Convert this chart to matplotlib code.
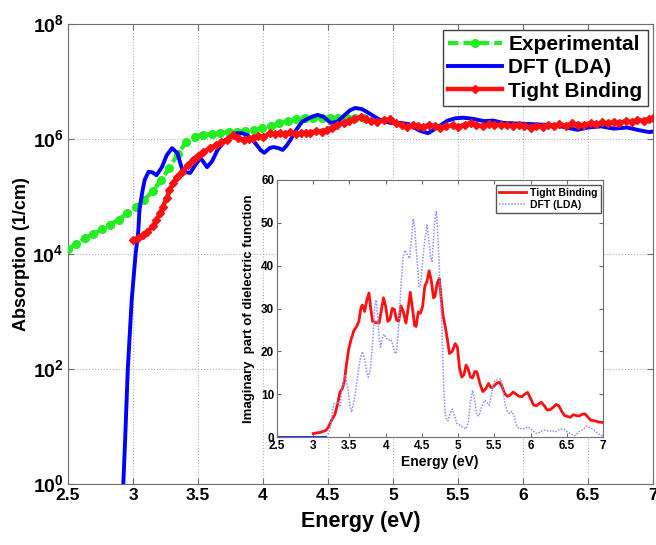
import numpy as np
import matplotlib
matplotlib.use("Agg")
import matplotlib.pyplot as plt

plt.rcParams['font.family'] = ['Liberation Sans', 'DejaVu Sans']
plt.rcParams['font.weight'] = 'bold'
plt.rcParams['mathtext.fontset'] = 'custom'
plt.rcParams['mathtext.rm'] = 'Liberation Sans:bold'
plt.rcParams['mathtext.bf'] = 'Liberation Sans:bold'

# ---- absorption spectra (energy in eV, log10 of absorption in 1/cm) ----
exp_e = [2.50, 2.565, 2.63, 2.695, 2.76, 2.825, 2.89, 2.955, 3.02, 3.085,
         3.15, 3.215, 3.28, 3.345, 3.41, 3.475, 3.54, 3.605, 3.67, 3.735,
         3.80, 3.865, 3.93, 3.995, 4.06, 4.125, 4.19, 4.255, 4.32, 4.385,
         4.45, 4.515, 4.58, 4.645, 4.71, 4.775]
exp_log = [4.08, 4.18, 4.27, 4.35, 4.43, 4.51, 4.60, 4.71, 4.81, 4.94,
           5.09, 5.28, 5.50, 5.74, 5.95, 6.04, 6.07, 6.09, 6.11, 6.12,
           6.13, 6.14, 6.15, 6.19, 6.23, 6.27, 6.31, 6.34, 6.36, 6.37,
           6.37, 6.37, 6.37, 6.37, 6.37, 6.37]

dft_e = [2.92, 2.94, 2.96, 2.99, 3.02, 3.04, 3.05, 3.07, 3.09, 3.12,
         3.15, 3.18, 3.22, 3.26, 3.30, 3.34, 3.38, 3.41, 3.44, 3.48,
         3.52, 3.57, 3.61, 3.65, 3.71, 3.76, 3.80, 3.84, 3.88, 3.94, 3.98,
         4.01, 4.05, 4.08, 4.12, 4.15, 4.18, 4.21, 4.25, 4.30, 4.36, 4.42,
         4.47, 4.52, 4.57, 4.62, 4.67, 4.71, 4.76, 4.80, 4.85, 4.90, 4.98,
         5.05, 5.12, 5.20, 5.27, 5.34, 5.42, 5.48, 5.54, 5.62, 5.70,
         5.77, 5.85, 5.95, 6.05, 6.15, 6.25, 6.33, 6.42, 6.50, 6.60,
         6.70, 6.80, 6.90, 6.97, 7.00]
dft_log = [-0.3, 0.8, 2.0, 3.2, 4.0, 4.37, 4.77, 5.06, 5.29, 5.43,
           5.42, 5.37, 5.50, 5.72, 5.84, 5.76, 5.46, 5.42, 5.41, 5.55,
           5.67, 5.51, 5.62, 5.81, 5.98, 6.06, 6.10, 6.10, 6.07, 5.93, 5.81,
           5.76, 5.84, 5.86, 5.84, 5.81, 5.88, 5.98, 6.14, 6.30, 6.37, 6.42,
           6.38, 6.28, 6.30, 6.40, 6.50, 6.54, 6.52, 6.47, 6.40, 6.33, 6.28,
           6.28, 6.26, 6.15, 6.10, 6.20, 6.32, 6.36, 6.37, 6.35, 6.31,
           6.32, 6.28, 6.27, 6.26, 6.25, 6.24, 6.20, 6.16, 6.20, 6.22,
           6.18, 6.20, 6.15, 6.12, 6.13]

tb_e = [3.00, 3.04, 3.08, 3.11, 3.15, 3.18, 3.21, 3.23, 3.26, 3.28,
        3.31, 3.34, 3.38, 3.42, 3.46, 3.50, 3.54, 3.59, 3.64, 3.68,
        3.72, 3.77, 3.81, 3.85, 3.89, 3.92, 3.96, 4.00, 4.05, 4.09,
        4.13, 4.17, 4.21, 4.25, 4.29, 4.33, 4.36, 4.41, 4.45, 4.49,
        4.53, 4.57, 4.62, 4.66, 4.70, 4.75, 4.79, 4.83, 4.88, 4.93,
        4.98, 5.02, 5.07, 5.11, 5.15, 5.19, 5.23, 5.28, 5.32, 5.36,
        5.41, 5.46, 5.50, 5.55, 5.60, 5.64, 5.69, 5.74, 5.78, 5.83,
        5.88, 5.92, 5.97, 6.01, 6.06, 6.10, 6.15, 6.19, 6.24, 6.28,
        6.33, 6.38, 6.42, 6.47, 6.52, 6.56, 6.61, 6.65, 6.70, 6.74,
        6.79, 6.84, 6.88, 6.93, 6.97, 7.00]
tb_log = [4.24, 4.28, 4.33, 4.38, 4.48, 4.59, 4.72, 4.82, 4.98, 5.11,
          5.24, 5.34, 5.43, 5.54, 5.63, 5.71, 5.77, 5.84, 5.90, 5.94,
          5.98, 6.07, 6.02, 5.98, 6.00, 6.02, 6.05, 6.03, 6.10, 6.08,
          6.11, 6.09, 6.12, 6.08, 6.10, 6.11, 6.10, 6.14, 6.13, 6.16,
          6.20, 6.24, 6.28, 6.32, 6.35, 6.38, 6.34, 6.31, 6.30, 6.33,
          6.34, 6.27, 6.24, 6.21, 6.25, 6.22, 6.21, 6.25, 6.22, 6.19,
          6.22, 6.24, 6.21, 6.25, 6.28, 6.25, 6.22, 6.26, 6.24, 6.25,
          6.24, 6.22, 6.25, 6.23, 6.20, 6.23, 6.21, 6.24, 6.22, 6.26,
          6.23, 6.27, 6.25, 6.24, 6.28, 6.26, 6.29, 6.27, 6.30, 6.28,
          6.31, 6.30, 6.33, 6.32, 6.35, 6.37]

# ---- imaginary part of the dielectric function (inset) ----
eps_tb_e = [3.00, 3.10, 3.17, 3.21, 3.25, 3.30, 3.34, 3.37, 3.40, 3.43,
            3.46, 3.49, 3.52, 3.56, 3.60, 3.63, 3.66, 3.68, 3.71, 3.74,
            3.77, 3.79, 3.82, 3.86, 3.91, 3.94, 3.97, 4.00, 4.03, 4.06,
            4.09, 4.12, 4.15, 4.18, 4.21, 4.24, 4.28, 4.31, 4.34, 4.37,
            4.40, 4.42, 4.45, 4.48, 4.51, 4.54, 4.57, 4.60, 4.63, 4.66,
            4.68, 4.71, 4.74, 4.76, 4.79, 4.82, 4.85, 4.88, 4.92, 4.96,
            4.99, 5.02, 5.05, 5.08, 5.11, 5.14, 5.17, 5.20, 5.23, 5.26,
            5.30, 5.34, 5.38, 5.42, 5.45, 5.48, 5.52, 5.57, 5.60, 5.64,
            5.68, 5.72, 5.76, 5.80, 5.84, 5.88, 5.92, 5.96, 6.00, 6.04,
            6.08, 6.12, 6.15, 6.19, 6.23, 6.27, 6.31, 6.35, 6.39, 6.43,
            6.47, 6.51, 6.55, 6.59, 6.63, 6.67, 6.71, 6.75, 6.79, 6.83,
            6.88, 6.94, 7.00]
eps_tb = [0.8, 1.1, 1.5, 2.3, 3.8, 5.3, 8.0, 10.5, 11.2, 13.0,
          17.1, 20.5, 22.6, 24.8, 25.8, 27.0, 30.3, 30.8, 29.3, 32.0,
          33.6, 30.5, 27.0, 26.7, 26.6, 29.5, 32.5, 30.5, 27.0, 27.5,
          30.0, 29.8, 27.3, 27.0, 30.6, 29.5, 26.6, 30.0, 33.8, 30.0,
          26.0, 25.8, 29.2, 28.9, 30.5, 35.2, 36.3, 38.8, 36.5, 32.5,
          32.8, 35.8, 37.0, 33.5, 28.5, 26.0, 23.0, 19.5, 20.0, 21.8,
          21.0, 16.0, 14.0, 14.5, 16.8, 15.8, 14.0, 13.8, 15.3, 15.2,
          12.5, 10.6, 11.2, 12.5, 11.6, 11.6, 12.4, 12.8, 12.0, 10.2,
          9.5, 9.8, 10.5, 10.0, 9.5, 9.4, 10.0, 10.4, 9.0, 7.5,
          7.3, 7.8, 8.1, 7.3, 6.3, 6.4, 6.9, 7.6, 7.3, 6.0,
          5.0, 4.8, 4.6, 5.2, 5.0, 4.9, 5.3, 5.4, 4.7, 3.9,
          3.8, 3.5, 3.4]

eps_dft_e = [2.50, 2.80, 3.17, 3.21, 3.24, 3.27, 3.29, 3.32, 3.34, 3.37,
             3.40, 3.43, 3.45, 3.48, 3.51, 3.53, 3.56, 3.59, 3.62, 3.65,
             3.68, 3.71, 3.74, 3.76, 3.79, 3.82, 3.85, 3.87, 3.89, 3.91,
             3.93, 3.96, 3.98, 4.01, 4.04, 4.07, 4.10, 4.13, 4.15, 4.18,
             4.21, 4.24, 4.27, 4.30, 4.33, 4.36, 4.38, 4.40, 4.43, 4.46,
             4.48, 4.51, 4.54, 4.57, 4.59, 4.62, 4.64, 4.66, 4.68, 4.70,
             4.72, 4.75, 4.78, 4.80, 4.82, 4.84, 4.86, 4.89, 4.92, 4.95,
             4.98, 5.02, 5.07, 5.11, 5.14, 5.17, 5.20, 5.23, 5.26, 5.29,
             5.32, 5.36, 5.39, 5.43, 5.46, 5.50, 5.54, 5.59, 5.62, 5.65,
             5.68, 5.71, 5.74, 5.77, 5.80, 5.84, 5.88, 5.92, 5.96, 5.99,
             6.03, 6.07, 6.10, 6.14, 6.18, 6.22, 6.26, 6.30, 6.34, 6.38,
             6.42, 6.46, 6.50, 6.55, 6.60, 6.63, 6.66, 6.70, 6.74, 6.78,
             6.82, 6.86, 6.90, 6.95, 7.00]
eps_dft = [0.0, 0.0, 0.0, 0.8, 2.5, 6.5, 7.9, 7.8, 8.2, 7.0,
           11.5, 14.3, 14.2, 11.0, 7.0, 5.8, 8.0, 11.5, 15.0, 18.5,
           19.9, 18.0, 15.0, 14.0, 16.0, 22.0, 30.5, 32.0, 28.0, 23.0,
           21.0, 23.5, 24.0, 23.0, 22.6, 22.8, 21.5, 19.5, 19.8, 26.0,
           35.0, 42.0, 43.6, 42.5, 41.7, 47.0, 51.0, 49.0, 42.0, 35.0,
           35.5, 41.0, 46.0, 49.5, 47.0, 42.0, 41.0, 46.0, 51.0, 52.6,
           47.0, 36.0, 24.0, 12.0, 6.0, 4.0, 3.8, 5.5, 6.5, 5.0,
           3.2, 2.8, 2.2, 1.9, 3.5, 8.0, 10.9, 8.5, 5.0, 5.0,
           6.8, 8.5, 8.3, 7.4, 10.0, 13.0, 13.4, 13.6, 11.0, 7.5,
           6.0, 5.5, 6.0, 5.0, 3.0, 1.9, 2.0, 1.9, 2.3, 2.1,
           1.5, 0.9, 0.8, 1.3, 1.6, 1.5, 1.3, 1.5, 1.2, 1.6,
           1.9, 1.8, 1.3, 0.8, 0.3, 0.5, 1.2, 1.5, 2.0, 2.6,
           2.2, 1.8, 1.2, 0.6, 0.2]

xticks = [2.5, 3, 3.5, 4, 4.5, 5, 5.5, 6, 6.5, 7]
xtick_labels = ['2.5', '3', '3.5', '4', '4.5', '5', '5.5', '6', '6.5', '7']
yticks = [1e0, 1e2, 1e4, 1e6, 1e8]
ytick_labels = [r'$10^{0}$', r'$10^{2}$', r'$10^{4}$', r'$10^{6}$', r'$10^{8}$']

spine_col = '#6e6e6e'

fig = plt.figure(figsize=(6.56, 5.45), dpi=100)
ax = fig.add_axes([68 / 656, 61 / 545, 585 / 656, 460 / 545])

ax.plot(exp_e, 10 ** np.array(exp_log), '--', color='#22ee22', lw=3,
        marker='o', ms=5.5, dashes=(2.5, 1.2), label='Experimental', zorder=3)
ax.plot(dft_e, 10 ** np.array(dft_log), '-', color='#0000ff', lw=2.8,
        label='DFT (LDA)', zorder=4)
ax.plot(tb_e, 10 ** np.array(tb_log), '-', color='#ff1010', lw=3.2,
        marker='D', ms=4.5, label='Tight Binding', zorder=5)

ax.set_yscale('log')
ax.set_xlim(2.5, 7)
ax.set_ylim(1e0, 1e8)
ax.set_xticks(xticks)
ax.set_xticklabels(xtick_labels, fontsize=12.5, fontweight='bold')
ax.set_yticks(yticks)
ax.set_yticklabels(ytick_labels, fontsize=14)
ax.yaxis.set_minor_locator(matplotlib.ticker.NullLocator())
ax.tick_params(direction='in', top=True, right=True, length=4,
               color=spine_col, pad=3)
ax.grid(True, linestyle=':', color='#b0b0b0', lw=0.8)
for s in ax.spines.values():
    s.set_color(spine_col)
ax.set_xlabel('Energy (eV)', fontsize=15.5, fontweight='bold', labelpad=6)
ax.set_ylabel('Absorption (1/cm)', fontsize=13, fontweight='bold', labelpad=2)

leg = ax.legend(loc='upper right', bbox_to_anchor=(0.991, 0.987),
                borderaxespad=0, fancybox=False, framealpha=1,
                edgecolor='#404040', handlelength=2.6, handletextpad=0.3,
                labelspacing=0.2, borderpad=0.25,
                prop={'size': 15, 'weight': 'bold'})
leg.get_frame().set_linewidth(1.0)
leg.set_zorder(10)

# ---- inset ----
ins = fig.add_axes([277 / 656, 108 / 545, 326 / 656, 257 / 545])
ins.set_zorder(6)
ins.set_facecolor('white')
ins.plot(eps_tb_e, eps_tb, '-', color='#ff1010', lw=2.0, label='Tight Binding')
ins.plot(eps_dft_e, eps_dft, linestyle=(0, (1, 1)), color='#8c8cff', lw=1.1,
         label='DFT (LDA)')
flat = [i for i, v in enumerate(eps_dft) if v == 0.0]
ins.plot([eps_dft_e[i] for i in flat], [eps_dft[i] for i in flat], '-',
         color='#2a2aff', lw=1.4)
ins.set_xlim(2.5, 7)
ins.set_ylim(0, 60)
ins.set_xticks(xticks)
ins.set_xticklabels(xtick_labels, fontsize=8.5, fontweight='bold')
ins.set_yticks([0, 10, 20, 30, 40, 50, 60])
ins.set_yticklabels(['0', '10', '20', '30', '40', '50', '60'],
                    fontsize=8.5, fontweight='bold')
ins.tick_params(direction='in', top=True, right=True, length=3,
                color=spine_col, pad=2)
for s in ins.spines.values():
    s.set_color(spine_col)
ins.set_xlabel('Energy (eV)', fontsize=10, fontweight='bold', labelpad=2)
ins.set_ylabel('Imaginary  part of dielectric function', fontsize=9.5,
               fontweight='bold', labelpad=4)
ins.legend(loc='upper right', bbox_to_anchor=(0.994, 0.981), borderaxespad=0,
           fancybox=False, framealpha=1, edgecolor='#555555',
           handlelength=2.6, handletextpad=0.4, labelspacing=0.2,
           borderpad=0.3, prop={'size': 7.5, 'weight': 'bold'})

fig.savefig('out.png', dpi=100)
